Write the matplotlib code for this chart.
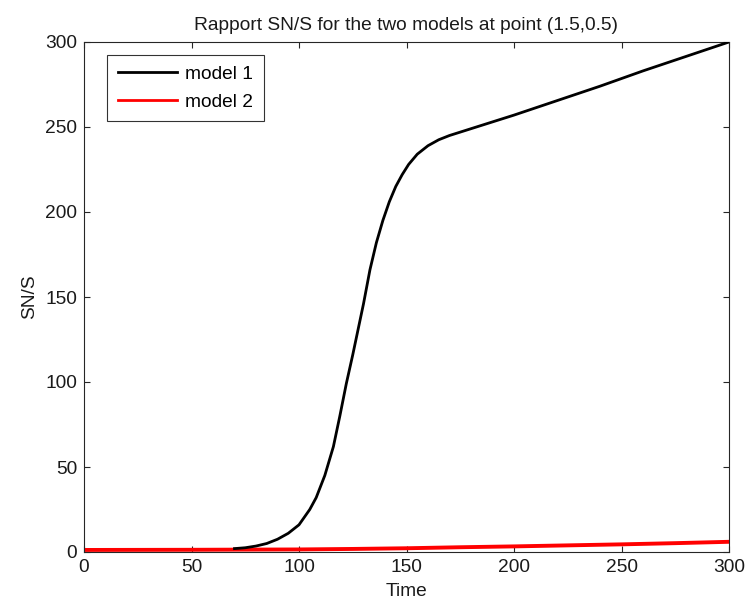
import matplotlib
matplotlib.use("Agg")
import matplotlib.pyplot as plt

# ---- data ----
t_model1 = [70, 75, 80, 85, 90, 95, 100, 105, 108, 112, 116, 119, 122, 125, 127,
            130, 133, 136, 139, 142, 145, 148, 151, 155, 160, 165, 170, 175, 180,
            190, 200, 220, 240, 260, 280, 300]
v_model1 = [2, 2.5, 3.5, 5, 7.5, 11, 16, 25, 32, 45, 62, 80, 99, 116, 128,
            146, 166, 182, 195, 206, 215, 222, 228, 234, 239, 242.5, 245, 247, 249,
            253, 257, 265.5, 274, 283, 291.5, 300]

t_model2 = [0, 50, 100, 125, 150, 175, 200, 225, 250, 275, 300]
v_model2 = [1.2, 1.3, 1.5, 1.8, 2.2, 2.8, 3.3, 3.9, 4.5, 5.2, 6.0]

labels = ["model 1", "model 2"]
xticks = [0, 50, 100, 150, 200, 250, 300]
yticks = [0, 50, 100, 150, 200, 250, 300]
title = "Rapport SN/S for the two models at point (1.5,0.5)"

plt.rcParams['font.family'] = ['Liberation Sans', 'DejaVu Sans']
FS = 13.8

fig = plt.figure(figsize=(7.45, 6.04), dpi=100)
ax = fig.add_axes([84/745, 1 - 552/604, (729-84)/745, (552-42)/604])

ax.plot(t_model1, v_model1, color='black', lw=2.0, label=labels[0], zorder=3)
ax.plot(t_model2, v_model2, color='#ff0000', lw=2.8, label=labels[1], zorder=2)

ax.set_xlim(0, 300)
ax.set_ylim(0, 300)
ax.set_xticks(xticks)
ax.set_yticks(yticks)
ax.tick_params(direction='in', length=4, width=0.8, top=True, right=True,
               labelsize=FS, pad=5, colors='#262626', labelcolor='#1a1a1a')
for s in ax.spines.values():
    s.set_linewidth(0.8)
    s.set_color('#262626')

ax.set_xlabel("Time", fontsize=FS, color='#1a1a1a', labelpad=5)
ax.set_ylabel("SN/S", fontsize=FS, color='#1a1a1a', labelpad=5)
ax.set_title(title, fontsize=FS, color='#1a1a1a', pad=9)

leg = ax.legend(loc='upper left', bbox_to_anchor=(23/645, 497/510),
                fontsize=FS, frameon=True, fancybox=False, shadow=False,
                handlelength=3.1, handletextpad=0.42, borderpad=0.55,
                labelspacing=0.55, borderaxespad=0)
leg.get_frame().set_edgecolor('black')
leg.get_frame().set_linewidth(0.8)
for line in leg.get_lines():
    line.set_linewidth(2.0)

fig.savefig("out.png", dpi=100, facecolor='white')
